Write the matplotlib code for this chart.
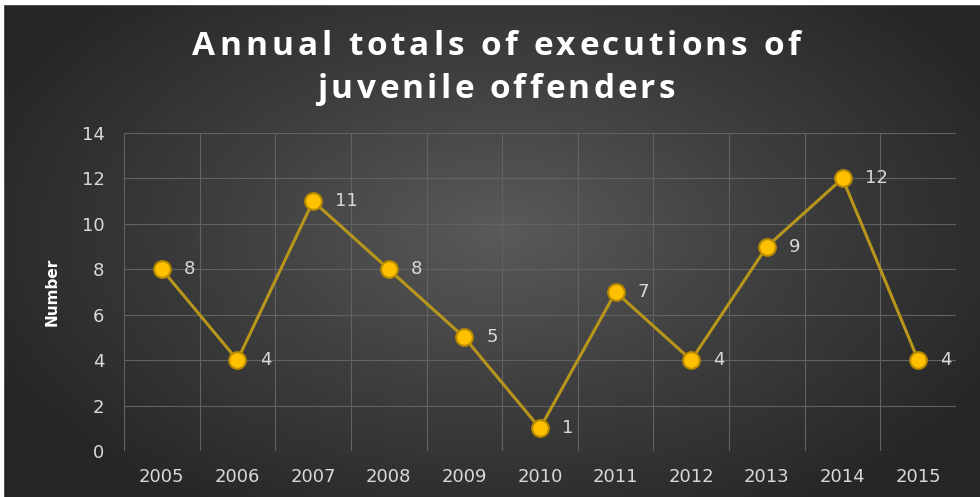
import numpy as np
import matplotlib
matplotlib.use("Agg")
import matplotlib.pyplot as plt
from matplotlib.colors import LinearSegmentedColormap
from matplotlib.font_manager import FontProperties

# data
years = ['2005', '2006', '2007', '2008', '2009', '2010',
         '2011', '2012', '2013', '2014', '2015']
executions = [8, 4, 11, 8, 5, 1, 7, 4, 9, 12, 4]
y_ticks = [0, 2, 4, 6, 8, 10, 12, 14]

title_lines = ['Annual totals of executions of', 'juvenile offenders']

W, H = 980, 497
fig = plt.figure(figsize=(W / 100, H / 100), dpi=100)

# radial dark-grey background
bg = fig.add_axes([0, 0, 1, 1])
yy, xx = np.mgrid[0:H, 0:W]
d = np.sqrt(((xx - 500) / 560.0) ** 2 + ((yy - 230) / 330.0) ** 2)
d = np.clip(d, 0, 1)
cmap = LinearSegmentedColormap.from_list('bg', ['#5a5a5a', '#3e3e3e', '#262626'])
bg.imshow(d, cmap=cmap, aspect='auto', extent=[0, W, H, 0], vmin=0, vmax=1)
# thin white frame at top and left
bg.axhspan(0, 3.5, color='white')
bg.axvspan(0, 3, color='white')
bg.set_xlim(0, W)
bg.set_ylim(H, 0)
bg.axis('off')

ax = fig.add_axes([124 / W, 1 - 451 / H, (956 - 124) / W, (451 - 133) / H])
ax.patch.set_alpha(0)

x = np.arange(len(years))
ax.plot(x, executions, color='#b8961c', lw=2.2, zorder=3,
        marker='o', markersize=12, markerfacecolor='#ffc000',
        markeredgecolor='#b88a00', markeredgewidth=1.5)

for xi, v in zip(x, executions):
    ax.annotate(str(v), (xi, v), xytext=(16, 0), textcoords='offset points',
                color='#d9d9d9', fontsize=13, va='center', ha='left')

ax.set_xlim(-0.5, len(years) - 0.5)
ax.set_ylim(0, 14)
ax.set_yticks(y_ticks)
ax.set_xticks(x)
ax.set_xticklabels(years)

# gridlines: horizontal at ticks, vertical between categories
grid_c = '#626262'
for yt in y_ticks:
    ax.axhline(yt, color=grid_c, lw=0.8, zorder=1)
for b in np.arange(-0.5, len(years), 1.0):
    ax.axvline(b, color=grid_c, lw=0.8, zorder=1)

for s in ax.spines.values():
    s.set_visible(False)
ax.tick_params(length=0, colors='#d9d9d9', labelsize=13)
ax.tick_params(axis='x', pad=12)
ax.tick_params(axis='y', pad=14)

ax.set_ylabel('Number', color='white', fontsize=11, fontweight='bold', labelpad=16)

# letter-spaced title, drawn one character at a time
fp = FontProperties(family=['Open Sans', 'DejaVu Sans'], weight='bold', size=24)
renderer = fig.canvas.get_renderer()


def advance(c):
    w2, _, _ = renderer.get_text_width_height_descent('x' + c + 'x', fp, ismath=False)
    w1, _, _ = renderer.get_text_width_height_descent('xx', fp, ismath=False)
    return w2 - w1


line_specs = [(title_lines[0], 608, 55), (title_lines[1], 358, 98)]
for text, target, base in line_specs:
    adv = [advance(c) for c in text]
    gap = (target - sum(adv)) / (len(text) - 1)
    left = 496 - target / 2
    for c, a in zip(text, adv):
        if c != ' ':
            fig.text(left / W, 1 - base / H, c, fontproperties=fp,
                     color='white', ha='left', va='baseline')
        left += a + gap

fig.savefig('out.png', dpi=100)
